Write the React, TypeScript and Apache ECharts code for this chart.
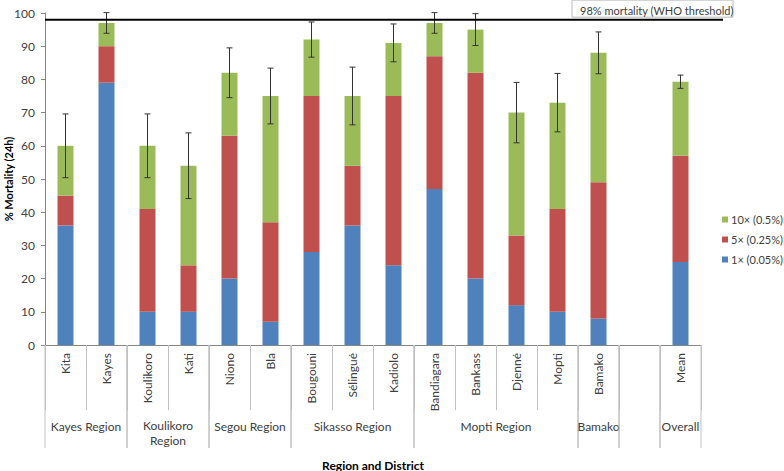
import React, { useEffect, useRef } from "react";
import * as echarts from "echarts";

const districts = ["Kita", "Kayes", "Koulikoro", "Kati", "Niono", "Bla", "Bougouni", "Sélingué", "Kadiolo", "Bandiagara", "Bankass", "Djenné", "Mopti", "Bamako", "", "Mean"];
const dose1x = [36, 79, 10, 10, 20, 7, 28, 36, 24, 47, 20, 12, 10, 8, null, 25];
const dose5x = [9, 11, 31, 14, 43, 30, 47, 18, 51, 40, 62, 21, 31, 41, null, 32];
const dose10x = [15, 7, 19, 30, 19, 38, 17, 21, 16, 10, 13, 37, 32, 39, null, 22.3];
const errHalf = [9.6, 3.1, 9.6, 9.9, 7.5, 8.4, 5.3, 8.7, 5.7, 3.1, 4.8, 9.1, 8.8, 6.3, null, 2.0];
const regionNames = ["Kayes Region", "Koulikoro\nRegion", "Segou Region", "Sikasso Region", "Mopti Region", "Bamako", "", "Overall"];
const regionSpans = [2, 2, 2, 3, 4, 1, 1, 1];
const threshold = 98;
const thresholdLabel = "98% mortality (WHO threshold)";
const yTicks = { min: 0, max: 100, interval: 10 };

const FONT = "Lato";
const TEXT = "#404040";

export default function App() {
  const ref = useRef<HTMLDivElement>(null);
  useEffect(() => {
    if (!ref.current) return;
    const chart = echarts.init(ref.current, undefined, { renderer: "svg" });

    const regionData: number[][] = [];
    let start = 0;
    regionSpans.forEach((s) => {
      regionData.push([start, 0, start + s - 1]);
      start += s;
    });

    const errData = districts.map((_, i) => {
      if (errHalf[i] == null) return [i, null, null];
      const tot = (dose1x[i] || 0) + (dose5x[i] || 0) + (dose10x[i] || 0);
      return [i, tot, errHalf[i]];
    });

    const option: any = {
      animation: false,
      textStyle: { fontFamily: FONT },
      grid: { left: 45, right: 83, top: 13, bottom: 126, outerBoundsMode: "none", containLabel: false },
      legend: {
        orient: "vertical",
        left: 717,
        top: 209,
        itemWidth: 6,
        itemHeight: 6,
        itemGap: 9,
        icon: "rect",
        data: ["10× (0.5%)", "5× (0.25%)", "1× (0.05%)"],
        textStyle: { fontFamily: FONT, fontSize: 11, color: TEXT, padding: [0, 0, 0, -2] },
      },
      xAxis: {
        type: "category",
        data: districts,
        name: "Region and District",
        nameLocation: "middle",
        nameGap: 114,
        nameMoveOverlap: false,
        nameTextStyle: { fontFamily: FONT, fontSize: 12, fontWeight: "bold", color: "#000" },
        axisLine: { lineStyle: { color: "#868686" } },
        axisTick: { show: true, length: 65, interval: 0, lineStyle: { color: "#c0c0c0" } },
        axisLabel: { rotate: 90, interval: 0, margin: 8, fontFamily: FONT, fontSize: 12, color: TEXT },
      },
      yAxis: {
        type: "value",
        min: yTicks.min,
        max: yTicks.max,
        interval: yTicks.interval,
        name: "% Mortality (24h)",
        nameLocation: "middle",
        nameGap: 31,
        nameMoveOverlap: false,
        nameTextStyle: { fontFamily: FONT, fontSize: 11, fontWeight: "bold", color: "#000" },
        axisLine: { show: true, lineStyle: { color: "#868686" } },
        axisTick: { show: true, length: 4, lineStyle: { color: "#868686" } },
        splitLine: { show: false },
        axisLabel: { margin: 10, fontFamily: FONT, fontSize: 12, color: TEXT },
      },
      series: [
        { name: "1× (0.05%)", type: "bar", stack: "m", barWidth: 16, data: dose1x, itemStyle: { color: "#4F81BD" } },
        { name: "5× (0.25%)", type: "bar", stack: "m", barWidth: 16, data: dose5x, itemStyle: { color: "#C0504D" } },
        { name: "10× (0.5%)", type: "bar", stack: "m", barWidth: 16, data: dose10x, itemStyle: { color: "#9BBB59" } },
        {
          name: "err",
          type: "custom",
          z: 5,
          data: errData,
          encode: { x: 0, y: 1 },
          renderItem: (params: any, api: any) => {
            const i = api.value(0);
            const tot = api.value(1);
            const e = api.value(2);
            if (isNaN(tot) || isNaN(e)) return null;
            const hi = api.coord([i, tot + e]);
            const lo = api.coord([i, tot - e]);
            const cw = 3;
            const st = { stroke: "#333", lineWidth: 1 };
            return {
              type: "group",
              children: [
                { type: "line", shape: { x1: hi[0], y1: hi[1], x2: lo[0], y2: lo[1] }, style: st },
                { type: "line", shape: { x1: hi[0] - cw, y1: hi[1], x2: hi[0] + cw, y2: hi[1] }, style: st },
                { type: "line", shape: { x1: lo[0] - cw, y1: lo[1], x2: lo[0] + cw, y2: lo[1] }, style: st },
              ],
            };
          },
        },
        {
          name: "regions",
          type: "custom",
          clip: false,
          silent: true,
          data: regionData,
          encode: { x: 0, y: 1 },
          renderItem: (params: any, api: any) => {
            const s = api.value(0);
            const e = api.value(2);
            const bw = api.size([1, 0])[0];
            const p0 = api.coord([s, 0]);
            const p1 = api.coord([e, 0]);
            const left = p0[0] - bw / 2;
            const right = p1[0] + bw / 2;
            const y0 = p0[1];
            const st = { stroke: "#c0c0c0", lineWidth: 1 };
            const name = regionNames[params.dataIndex];
            const multi = name.indexOf("\n") >= 0;
            return {
              type: "group",
              children: [
                { type: "line", shape: { x1: left, y1: y0, x2: left, y2: y0 + 103 }, style: st },
                { type: "line", shape: { x1: right, y1: y0, x2: right, y2: y0 + 103 }, style: st },
                {
                  type: "text",
                  x: (left + right) / 2,
                  y: y0 + (multi ? 88 : 81),
                  style: {
                    text: name,
                    align: "center",
                    verticalAlign: "middle",
                    fontFamily: FONT,
                    fontSize: 12,
                    lineHeight: 15,
                    fill: TEXT,
                  },
                },
              ],
            };
          },
        },
        {
          name: "threshold",
          type: "custom",
          clip: false,
          silent: true,
          z: 6,
          data: [[0, threshold]],
          encode: { x: 0, y: 1 },
          renderItem: (params: any, api: any) => {
            const ly = api.coord([0, api.value(1)])[1];
            const cs = params.coordSys;
            const xEnd = cs.x + cs.width + 22;
            return {
              type: "group",
              children: [
                { type: "line", shape: { x1: cs.x, y1: ly, x2: xEnd, y2: ly }, style: { stroke: "#000", lineWidth: 2 } },
                {
                  type: "rect",
                  shape: { x: xEnd - 151, y: ly - 19.5, width: 161, height: 17 },
                  style: { fill: "#fff", stroke: "#bbbbbb", lineWidth: 1 },
                },
                {
                  type: "text",
                  x: xEnd - 143,
                  y: ly - 9,
                  style: {
                    text: thresholdLabel,
                    align: "left",
                    verticalAlign: "middle",
                    fontFamily: FONT,
                    fontSize: 11,
                    fill: TEXT,
                  },
                },
              ],
            };
          },
        },
      ],
    };
    chart.setOption(option);
    return () => chart.dispose();
  }, []);
  return <div ref={ref} style={{ width: 784, height: 471, position: "absolute", left: 0, top: 0 }} />;
}
